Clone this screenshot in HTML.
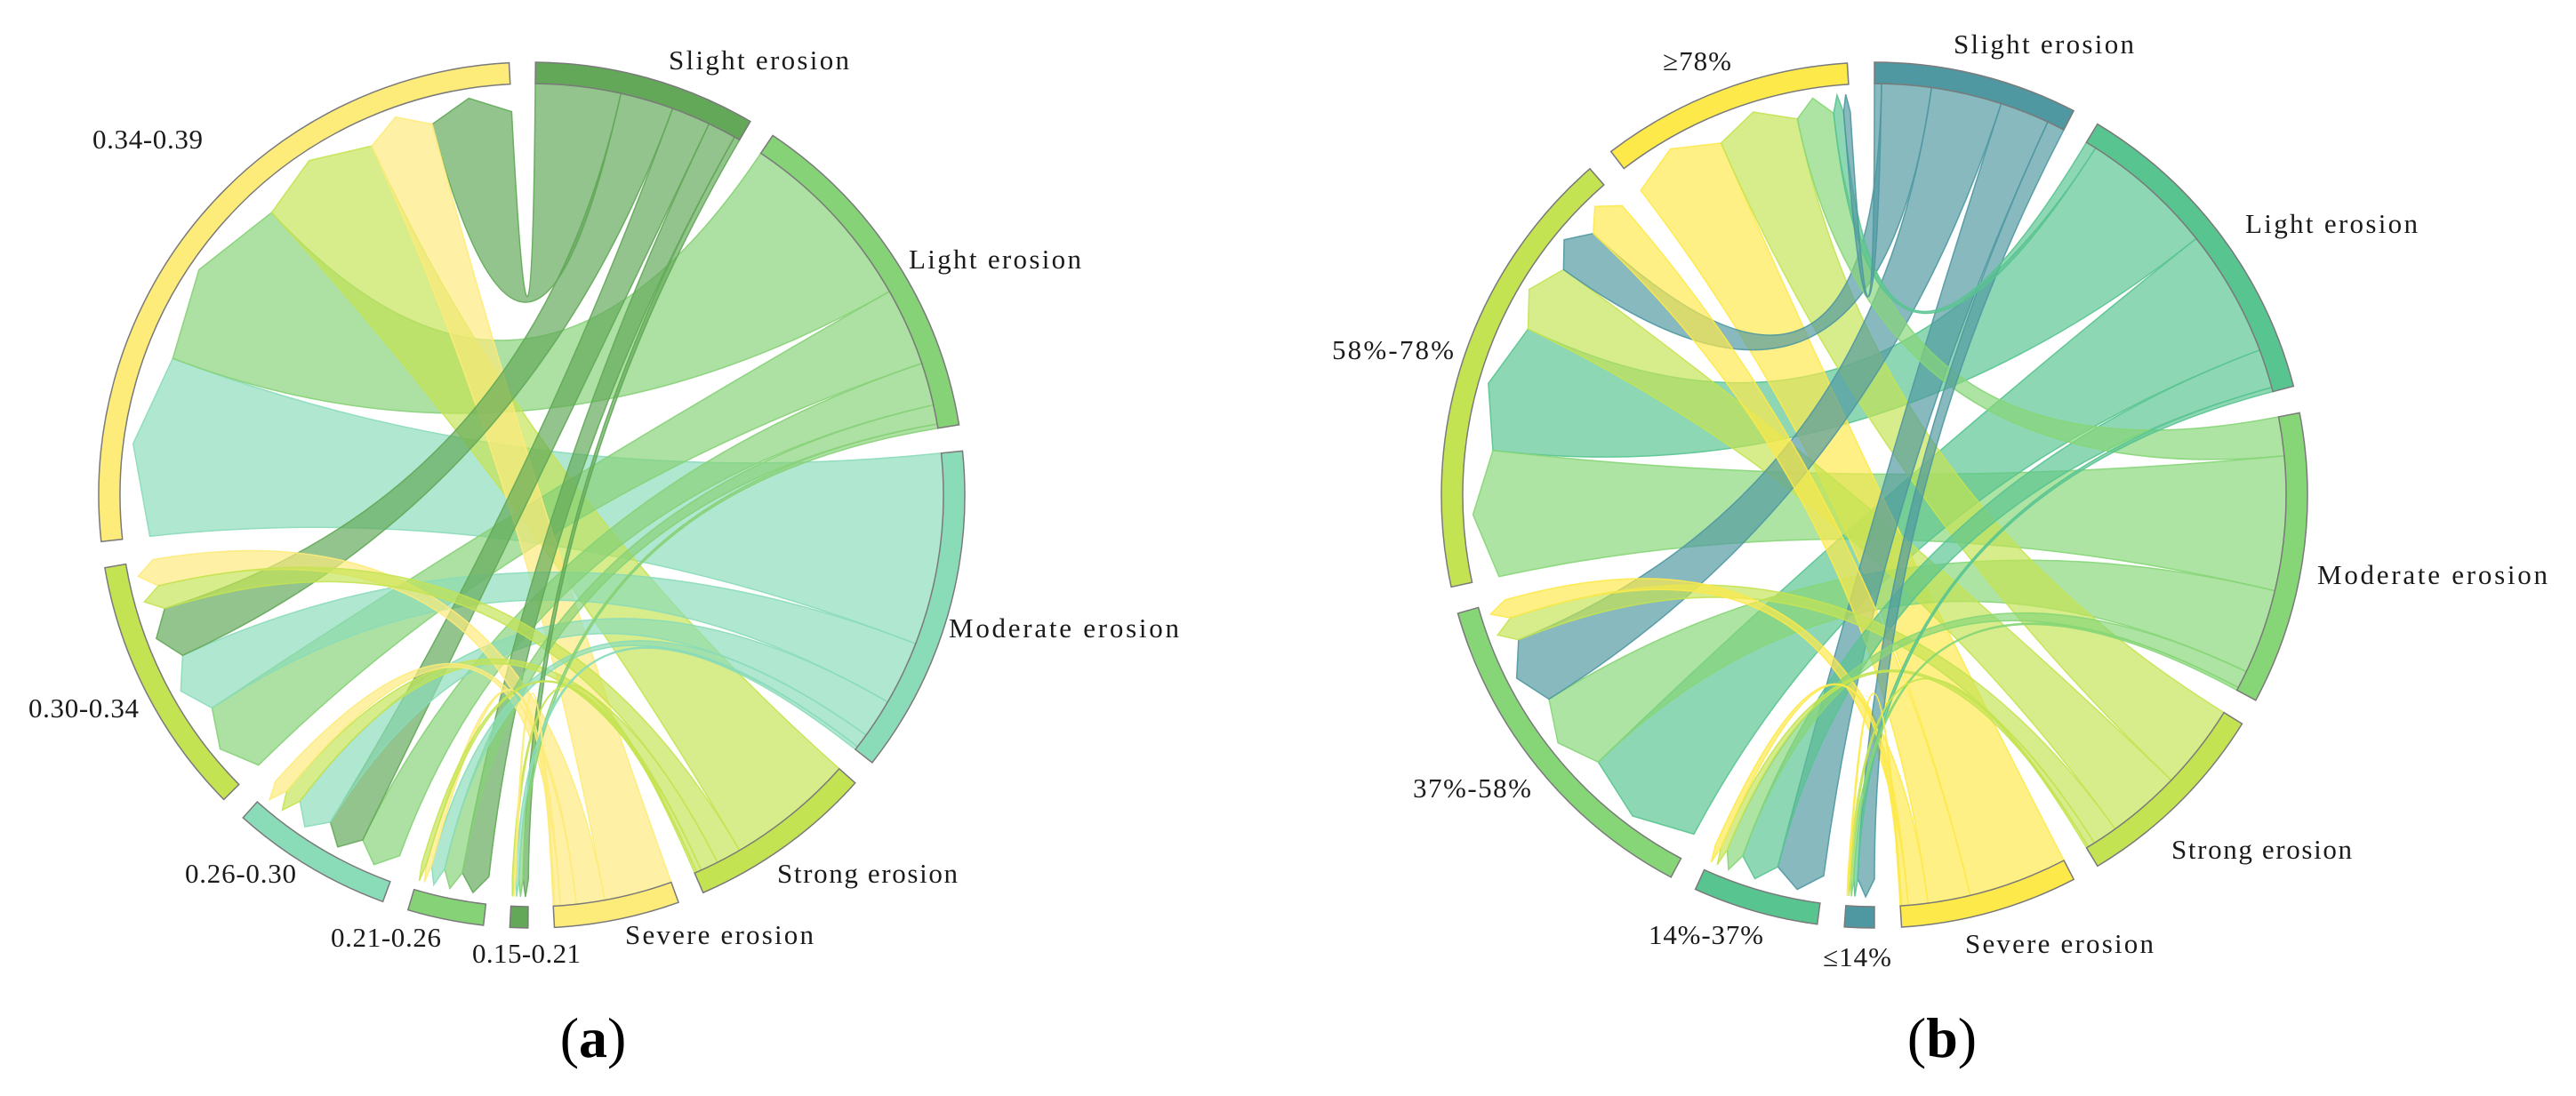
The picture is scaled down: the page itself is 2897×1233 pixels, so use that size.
<!DOCTYPE html>
<html><head><meta charset="utf-8">
<style>
html,body{margin:0;padding:0;background:#fff;}
svg{display:block;}
.lbl{font-family:"Liberation Serif",serif;font-size:31px;fill:#1a1a1a;}
.cap{font-family:"Liberation Serif",serif;font-size:64px;font-weight:bold;fill:#000;}
</style></head>
<body>
<svg id="fig" width="2897" height="1233" viewBox="0 0 2897 1233" xmlns="http://www.w3.org/2000/svg">
  <g id="chartA"></g>
  <g id="chartB"></g>

  <g>
    <text class="lbl" x="752" y="78" textLength="203">Slight erosion</text>
    <text class="lbl" x="1022" y="302" textLength="194">Light erosion</text>
    <text class="lbl" x="1067" y="717" textLength="259">Moderate erosion</text>
    <text class="lbl" x="874" y="993" textLength="203">Strong erosion</text>
    <text class="lbl" x="703" y="1062" textLength="212">Severe erosion</text>
    <text class="lbl" x="531" y="1083" textLength="122">0.15-0.21</text>
    <text class="lbl" x="372" y="1065" textLength="124">0.21-0.26</text>
    <text class="lbl" x="208" y="993" textLength="125">0.26-0.30</text>
    <text class="lbl" x="32" y="807" textLength="124">0.30-0.34</text>
    <text class="lbl" x="104" y="167" textLength="124">0.34-0.39</text>
    <text class="cap" x="667" y="1189" text-anchor="middle"><tspan font-weight="normal">(</tspan>a<tspan font-weight="normal">)</tspan></text>
  </g>
  <g>
    <text class="lbl" x="2197" y="60" textLength="203">Slight erosion</text>
    <text class="lbl" x="2525" y="262" textLength="194">Light erosion</text>
    <text class="lbl" x="2606" y="657" textLength="259">Moderate erosion</text>
    <text class="lbl" x="2442" y="966" textLength="203">Strong erosion</text>
    <text class="lbl" x="2210" y="1072" textLength="212">Severe erosion</text>
    <text class="lbl" x="2050" y="1087" textLength="77">≤14%</text>
    <text class="lbl" x="1854" y="1062" textLength="129">14%-37%</text>
    <text class="lbl" x="1589" y="897" textLength="133">37%-58%</text>
    <text class="lbl" x="1498" y="404" textLength="137">58%-78%</text>
    <text class="lbl" x="1870" y="79" textLength="77">≥78%</text>
    <text class="cap" x="2184" y="1189" text-anchor="middle"><tspan font-weight="normal">(</tspan>b<tspan font-weight="normal">)</tspan></text>
  </g>
</svg>
<script>
// ---------- Chart (a) data ----------
const aRanges = ["0.15-0.21","0.21-0.26","0.26-0.30","0.30-0.34","0.34-0.39"];
const aClasses = ["Slight erosion","Light erosion","Moderate erosion","Strong erosion","Severe erosion"];
const aSlight   = [0.8, 4.0, 5.5, 7.5, 12.0];
const aLight    = [0.6, 2.7, 6.0, 11.0, 26.5];
const aModerate = [0.5, 2.0, 5.5, 9.0, 27.0];
const aStrong   = [0.3, 0.7, 2.5, 3.5, 18.0];
const aSevere   = [0.2, 0.8, 2.2, 4.0, 9.6];
const aOrder = [[0,1,2,4,3],[0,1,2,4,3],[1,0,2,3,4],[1,2,0,3,4],[2,1,3,4,0]];

// ---------- Chart (b) data ----------
const bRanges = ["≤14%","14%-37%","37%-58%","58%-78%","≥78%"];
const bClasses = ["Slight erosion","Light erosion","Moderate erosion","Strong erosion","Severe erosion"];
const bSlight   = [2.5, 7.0, 10.0, 7.0, 1.0];
const bLight    = [0.6, 5.5, 18.0, 19.0, 1.5];
const bModerate = [0.4, 2.5, 12.0, 19.0, 5.5];
const bStrong   = [0.3, 1.0, 3.5, 10.4, 12.0];
const bSevere   = [0.2, 0.9, 2.8, 6.0, 14.0];
const bOrder = [[0,1,2,3,4],[0,1,2,3,4],[1,2,0,3,4],[2,1,3,0,4],[4,3,2,1,0]];

const NS = "http://www.w3.org/2000/svg";

function drawChord(g, opt) {
  const cx = opt.cx, cy = opt.cy, rOut = 487, rIn = 463, rs = 432, tip = 20;
  const cols = opt.cols;
  const nR = opt.ranges.length, nC = opt.classes.length;
  const val = (ri, ci) => cols[ci][ri];
  let total = 0;
  for (let r = 0; r < nR; r++) for (let c = 0; c < nC; c++) total += val(r, c);
  const nSec = nR + nC;
  const k = (360 - nSec * opt.gap) / (2 * total);
  const P = (r, d) => { const a = d * Math.PI / 180; return [cx + r * Math.sin(a), cy - r * Math.cos(a)]; };
  const f = p => p[0].toFixed(2) + " " + p[1].toFixed(2);

  let ang = opt.start;
  const classStart = [], rangeStart = [];
  for (let c = 0; c < nC; c++) {
    let s = 0; for (let r = 0; r < nR; r++) s += val(r, c);
    classStart.push([ang, ang + s * k]); ang += s * k + opt.gap;
  }
  for (let r = 0; r < nR; r++) {
    let s = 0; for (let c = 0; c < nC; c++) s += val(r, c);
    rangeStart.push([ang, ang + s * k]); ang += s * k + opt.gap;
  }

  const classPos = {};
  for (let c = 0; c < nC; c++) {
    let a = classStart[c][0];
    for (let r = nR - 1; r >= 0; r--) {
      const w = val(r, c) * k;
      classPos[r + "_" + c] = [a, a + w]; a += w;
    }
  }
  const rangePos = {};
  for (let r = 0; r < nR; r++) {
    let a = rangeStart[r][0];
    for (const c of opt.order[r]) {
      const w = val(r, c) * k;
      rangePos[r + "_" + c] = [a, a + w]; a += w;
    }
  }

  const ribbons = document.createElementNS(NS, "g");
  
  
  g.appendChild(ribbons);
  const links = [];
  for (let r = 0; r < nR; r++) for (let c = 0; c < nC; c++) if (val(r, c) > 0) links.push([r, c]);
  links.sort((x, y) => val(y[0], y[1]) - val(x[0], x[1]));
  const C = [cx, cy];
  for (const [r, c] of links) {
    const [a1, a2] = rangePos[r + "_" + c];
    const [b1, b2] = classPos[r + "_" + c];
    const A1 = P(rs, a1), A2 = P(rs, a2), T = P(rs + tip, (a1 + a2) / 2);
    const B1 = P(rIn, b1), B2 = P(rIn, b2);
    const large = (b2 - b1) > 180 ? 1 : 0;
    const d = "M" + f(A1) + " L" + f(T) + " L" + f(A2) +
      " Q" + f(C) + " " + f(B1) +
      " A" + rIn + " " + rIn + " 0 " + large + " 1 " + f(B2) +
      " Q" + f(C) + " " + f(A1) + " Z";
    const p = document.createElementNS(NS, "path");
    p.setAttribute("d", d);
    p.setAttribute("fill", opt.colors[c]);
    p.setAttribute("fill-opacity", "0.68");
    p.setAttribute("stroke", opt.colors[c]);
    p.setAttribute("stroke-opacity", "0.9");
    p.setAttribute("stroke-width", "1.5");
    
    
    ribbons.appendChild(p);
  }

  const arcPath = (s, e) => {
    const o1 = P(rOut, s), o2 = P(rOut, e), i2 = P(rIn, e), i1 = P(rIn, s);
    const lg = (e - s) > 180 ? 1 : 0;
    return "M" + f(o1) + " A" + rOut + " " + rOut + " 0 " + lg + " 1 " + f(o2) +
      " L" + f(i2) + " A" + rIn + " " + rIn + " 0 " + lg + " 0 " + f(i1) + " Z";
  };
  for (let c = 0; c < nC; c++) {
    const p = document.createElementNS(NS, "path");
    p.setAttribute("d", arcPath(classStart[c][0], classStart[c][1]));
    p.setAttribute("fill", opt.colors[c]);
    p.setAttribute("stroke", "#7a7a7a");
    p.setAttribute("stroke-width", "1.5");
    
    
    g.appendChild(p);
  }
  for (let r = 0; r < nR; r++) {
    const p = document.createElementNS(NS, "path");
    p.setAttribute("d", arcPath(rangeStart[r][0], rangeStart[r][1]));
    p.setAttribute("fill", opt.colors[r]);
    p.setAttribute("stroke", "#7a7a7a");
    p.setAttribute("stroke-width", "1.5");
    
    
    g.appendChild(p);
  }
}

drawChord(document.getElementById("chartA"), {
  cx: 598, cy: 557, start: 0.5, gap: 3.5,
  ranges: aRanges, classes: aClasses,
  cols: [aSlight, aLight, aModerate, aStrong, aSevere],
  order: aOrder,
  colors: ["#62a858", "#86d277", "#8adcb9", "#c4e352", "#fdeb7a"]
});
drawChord(document.getElementById("chartB"), {
  cx: 2108, cy: 557, start: 0.0, gap: 3.6,
  ranges: bRanges, classes: bClasses,
  cols: [bSlight, bLight, bModerate, bStrong, bSevere],
  order: bOrder,
  colors: ["#4f98a1", "#58c490", "#86d677", "#c4e352", "#fde94a"]
});
</script>
</body></html>
